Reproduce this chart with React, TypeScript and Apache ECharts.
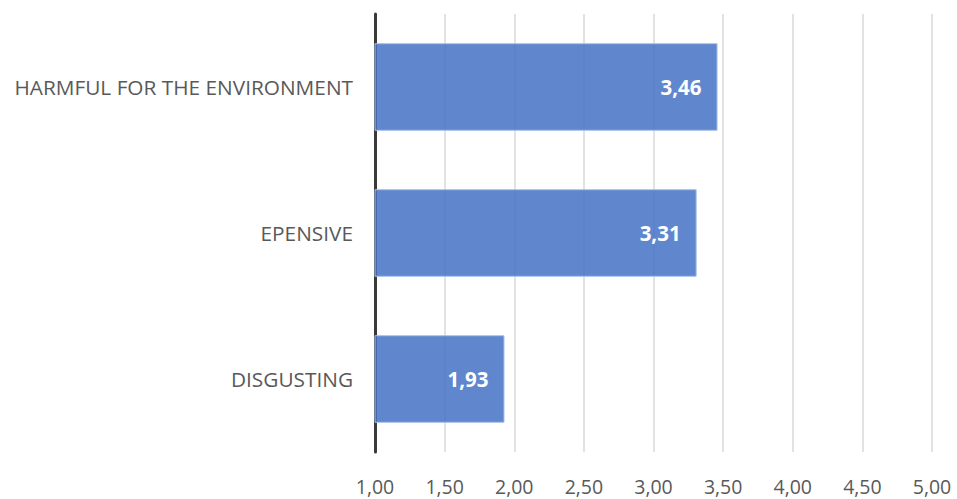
import React, { useEffect, useRef } from "react";
import * as echarts from "echarts";

const categories = ["DISGUSTING", "EPENSIVE", "HARMFUL FOR THE ENVIRONMENT"];
const scores = [1.93, 3.31, 3.46];
const axisMin = 1;
const axisMax = 5;
const axisStep = 0.5;

const fmt = (v: number) => v.toFixed(2).replace(".", ",");

export default function App() {
  const ref = useRef<HTMLDivElement>(null);

  useEffect(() => {
    if (!ref.current) return;
    const chart = echarts.init(ref.current, null, { renderer: "svg" });
    chart.setOption({
      animation: false,
      backgroundColor: "#ffffff",
      grid: { left: 375, right: 25, top: 14, bottom: 47, containLabel: false },
      xAxis: {
        type: "value",
        min: axisMin,
        max: axisMax,
        interval: axisStep,
        axisLine: { show: false },
        axisTick: { show: false },
        axisLabel: {
          formatter: (v: number) => fmt(v),
          color: "#595959",
          fontSize: 19.5,
          fontFamily: "Open Sans",
          margin: 24,
        },
        splitLine: { show: true, lineStyle: { color: "#d9d9d9", width: 1.5 } },
      },
      yAxis: {
        type: "category",
        data: categories,
        axisLine: { show: true, lineStyle: { color: "#3a3a3a", width: 3 } },
        axisTick: { show: false },
        axisLabel: {
          color: "#595959",
          fontSize: 20.8,
          fontFamily: "Open Sans",
          margin: 22,
        },
      },
      series: [
        {
          type: "bar",
          data: scores,
          barWidth: "60%",
          itemStyle: {
            color: "rgba(68,114,196,0.85)",
            borderColor: "#a9c1e6",
            borderWidth: 1,
          },
          label: {
            show: true,
            position: "insideRight",
            distance: 16,
            color: "#ffffff",
            fontWeight: "bold",
            fontSize: 20.5,
            fontFamily: "Open Sans",
            formatter: (p: any) => fmt(p.value),
          },
        },
      ],
    });
    return () => chart.dispose();
  }, []);

  return (
    <div
      ref={ref}
      style={{ position: "fixed", left: 0, top: 0, width: 957, height: 499 }}
    />
  );
}
